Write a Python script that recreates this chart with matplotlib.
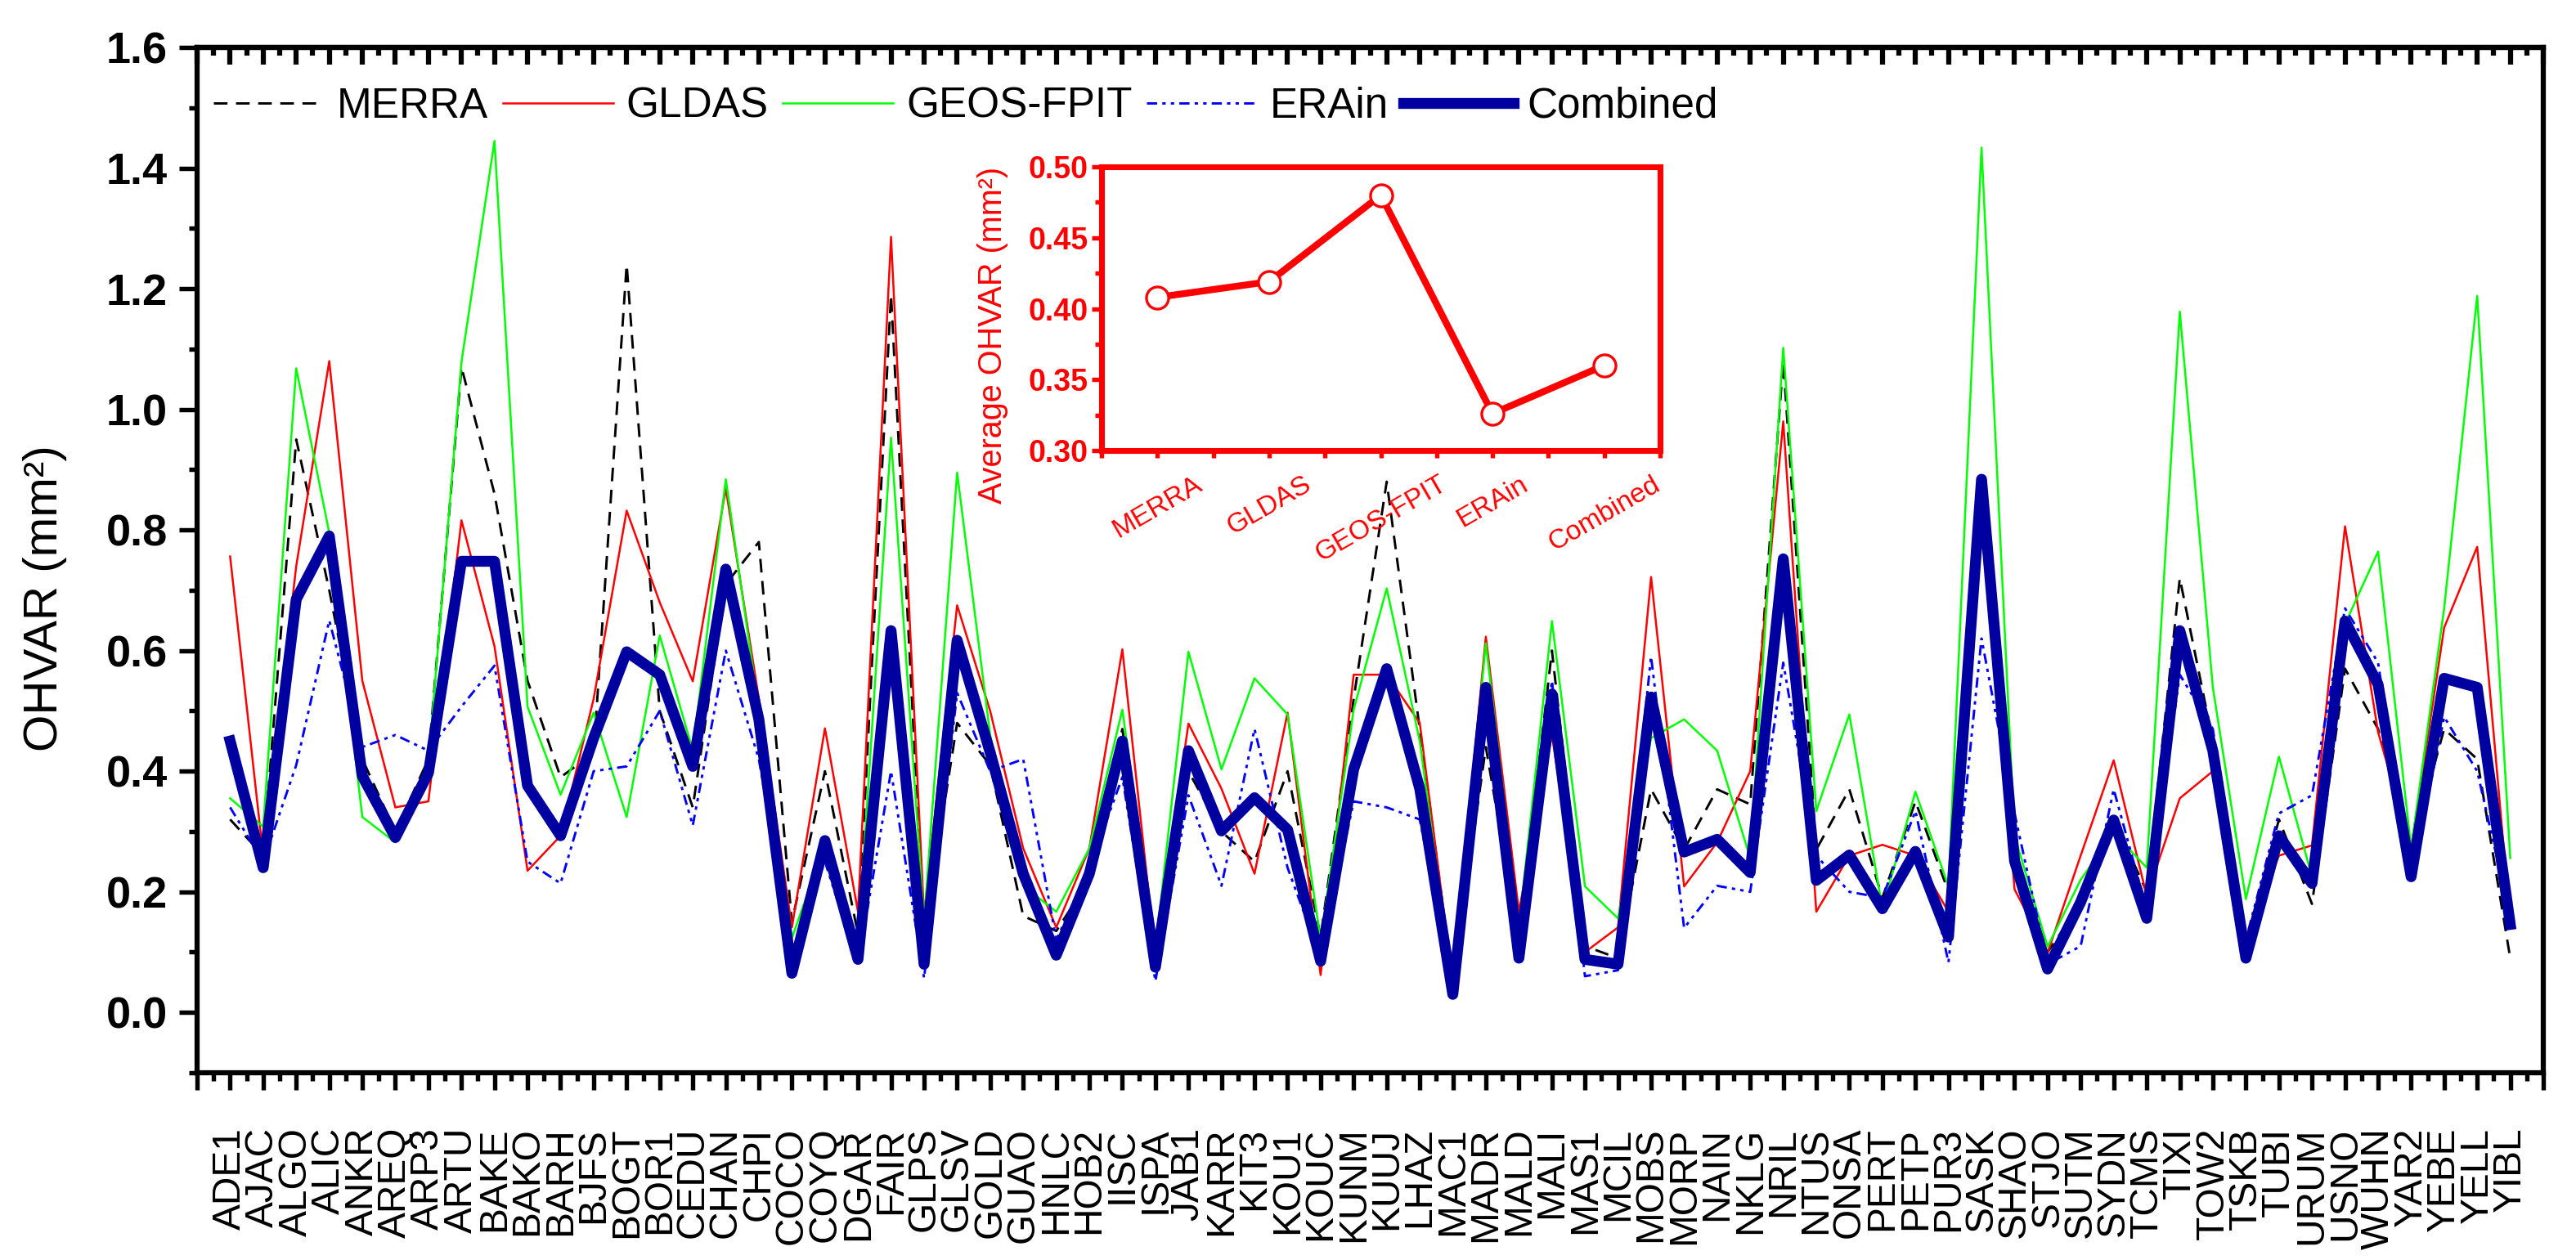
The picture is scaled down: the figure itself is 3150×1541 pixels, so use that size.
import numpy as np
import matplotlib
matplotlib.use("Agg")
import matplotlib.pyplot as plt
from matplotlib.ticker import MultipleLocator, FormatStrFormatter

plt.rcParams['font.family'] = ['Liberation Sans', 'DejaVu Sans']
plt.rcParams['lines.scale_dashes'] = False

# ---- data ----
stations = ["ADE1", "AJAC", "ALGO", "ALIC", "ANKR", "AREQ", "ARP3", "ARTU", "BAKE", "BAKO",
            "BARH", "BJFS", "BOGT", "BOR1", "CEDU", "CHAN", "CHPI", "COCO", "COYQ", "DGAR",
            "FAIR", "GLPS", "GLSV", "GOLD", "GUAO", "HNLC", "HOB2", "IISC", "ISPA", "JAB1",
            "KARR", "KIT3", "KOU1", "KOUC", "KUNM", "KUUJ", "LHAZ", "MAC1", "MADR", "MALD",
            "MALI", "MAS1", "MCIL", "MOBS", "MORP", "NAIN", "NKLG", "NRIL", "NTUS", "ONSA",
            "PERT", "PETP", "PUR3", "SASK", "SHAO", "STJO", "SUTM", "SYDN", "TCMS", "TIXI",
            "TOW2", "TSKB", "TUBI", "URUM", "USNO", "WUHN", "YAR2", "YEBE", "YELL", "YIBL"]

merra = [0.32, 0.26, 0.95, 0.70, 0.42, 0.30, 0.42, 1.07, 0.86, 0.55, 0.39, 0.43,
         1.24, 0.50, 0.34, 0.71, 0.78, 0.15, 0.40, 0.13, 1.19, 0.13, 0.48,
         0.41, 0.16, 0.135, 0.22, 0.47, 0.10, 0.40, 0.30, 0.25, 0.40, 0.125, 0.52,
         0.88, 0.47, 0.05, 0.44, 0.12, 0.60, 0.11, 0.09, 0.37, 0.27, 0.37, 0.345,
         1.08, 0.27, 0.37, 0.19, 0.35, 0.20, 0.86, 0.26, 0.10, 0.18, 0.32, 0.20,
         0.72, 0.45, 0.11, 0.32, 0.18, 0.57, 0.47, 0.27, 0.47, 0.42, 0.09]

gldas = [0.756, 0.26, 0.74, 1.08, 0.55, 0.34, 0.35, 0.816, 0.607, 0.235, 0.293, 0.52,
         0.832, 0.68, 0.549, 0.869, 0.52, 0.141, 0.471, 0.167, 1.286, 0.16, 0.675,
         0.50, 0.272, 0.141, 0.272, 0.602, 0.094, 0.479, 0.371, 0.23, 0.497, 0.062, 0.56,
         0.56, 0.48, 0.05, 0.623, 0.167, 0.46, 0.10, 0.141, 0.722, 0.209, 0.282, 0.40,
         0.98, 0.167, 0.26, 0.278, 0.26, 0.167, 0.86, 0.204, 0.099, 0.26, 0.418, 0.193,
         0.355, 0.40, 0.125, 0.26, 0.277, 0.806, 0.465, 0.272, 0.638, 0.772, 0.15]

geos = [0.355, 0.308, 1.068, 0.795, 0.324, 0.282, 0.413, 1.078, 1.445, 0.507, 0.361, 0.497,
        0.324, 0.625, 0.434, 0.884, 0.50, 0.123, 0.28, 0.114, 0.953, 0.151, 0.895,
        0.46, 0.21, 0.167, 0.272, 0.502, 0.104, 0.598, 0.403, 0.554, 0.494, 0.12, 0.502,
        0.703, 0.45, 0.04, 0.612, 0.141, 0.649, 0.209, 0.156, 0.455, 0.486, 0.434, 0.256,
        1.102, 0.334, 0.494, 0.172, 0.366, 0.209, 1.434, 0.293, 0.109, 0.22, 0.298, 0.24,
        1.162, 0.539, 0.188, 0.424, 0.225, 0.644, 0.764, 0.272, 0.67, 1.188, 0.256]

erain = [0.34, 0.25, 0.41, 0.65, 0.44, 0.46, 0.434, 0.507, 0.575, 0.25, 0.214, 0.40,
         0.408, 0.50, 0.31, 0.60, 0.42, 0.10, 0.25, 0.08, 0.40, 0.057, 0.53,
         0.40, 0.42, 0.12, 0.24, 0.39, 0.052, 0.36, 0.21, 0.47, 0.24, 0.09, 0.35,
         0.34, 0.32, 0.05, 0.55, 0.09, 0.55, 0.06, 0.07, 0.59, 0.14, 0.21, 0.20,
         0.58, 0.26, 0.20, 0.19, 0.334, 0.083, 0.62, 0.33, 0.08, 0.11, 0.37, 0.17,
         0.56, 0.47, 0.12, 0.33, 0.36, 0.67, 0.58, 0.22, 0.49, 0.40, 0.16]

combined = [0.450, 0.240, 0.685, 0.790, 0.392, 0.290, 0.397, 0.748, 0.748, 0.376, 0.293, 0.455,
            0.598, 0.560, 0.408, 0.735, 0.486, 0.065, 0.285, 0.088, 0.633, 0.080, 0.617,
            0.431, 0.230, 0.095, 0.230, 0.450, 0.075, 0.434, 0.301, 0.356, 0.303, 0.085, 0.403,
            0.570, 0.371, 0.030, 0.539, 0.090, 0.528, 0.088, 0.080, 0.523, 0.266, 0.287, 0.232,
            0.752, 0.219, 0.261, 0.172, 0.267, 0.125, 0.884, 0.251, 0.072, 0.183, 0.319, 0.156,
            0.633, 0.434, 0.090, 0.293, 0.214, 0.649, 0.544, 0.225, 0.554, 0.539, 0.146]

products = ["MERRA", "GLDAS", "GEOS-FPIT", "ERAin", "Combined"]
avg_ohvar = [0.408, 0.419, 0.480, 0.326, 0.360]

W, H = 3150, 1541
fig = plt.figure(figsize=(W / 300, H / 300), dpi=300)

# ---- main axes ----
ax = fig.add_axes([241 / W, 1 - 1312 / H, (3110 - 241) / W, (1312 - 58) / H])
x = np.arange(1, len(stations) + 1)

ax.plot(x, merra, color='black', lw=0.7, dashes=(4, 2.5), label='MERRA')
ax.plot(x, gldas, color='#FF0000', lw=0.6, label='GLDAS')
ax.plot(x, geos, color='#00FF00', lw=0.6, label='GEOS-FPIT')
ax.plot(x, erain, color='#0000FF', lw=0.7, dashes=(3, 1.5, 1, 1.5, 1, 1.5), label='ERAin')
ax.plot(x, combined, color='#0000A0', lw=3.2, label='Combined', zorder=5)

ax.set_xlim(0, 71)
ax.set_ylim(-0.1, 1.6)

ax.set_xticks(np.arange(0, 72))
ax.set_xticklabels([''] + stations + [''], rotation=90, fontsize=11.5)
ax.xaxis.set_minor_locator(MultipleLocator(0.5))
ax.tick_params(axis='x', which='major', direction='out', length=5, width=1.3, pad=11)
ax.tick_params(axis='x', which='minor', direction='out', length=2.5, width=1.3)

ax.set_yticks(np.arange(0, 1.61, 0.2))
ax.yaxis.set_major_formatter(FormatStrFormatter('%.1f'))
ax.yaxis.set_minor_locator(MultipleLocator(0.1))
ax.tick_params(axis='y', which='major', direction='out', length=5.2, width=1.3, pad=3.5)
ax.tick_params(axis='y', which='minor', direction='out', length=2.5, width=1.3)
for t in ax.get_yticklabels():
    t.set_fontweight('bold')
    t.set_fontsize(13)

for s in ax.spines.values():
    s.set_linewidth(1.5)

# inward ticks along the top edge
top = ax.secondary_xaxis('top')
top.set_xticks(np.arange(0, 72))
top.xaxis.set_minor_locator(MultipleLocator(0.5))
top.tick_params(axis='x', which='major', direction='in', length=5, width=1.5, labeltop=False)
top.tick_params(axis='x', which='minor', direction='in', length=2.5, width=1.5)
top.spines['top'].set_linewidth(1.5)

fig.text(55 / W, 1 - 732 / H, 'OHVAR (mm²)', rotation=90, ha='center', va='center', fontsize=14)

ax.legend(ncol=5, loc='upper left', bbox_to_anchor=(261 / W, 1 - 106 / H),
          bbox_transform=fig.transFigure, frameon=False, fontsize=12.3,
          handlelength=2.63, handletextpad=0.31, columnspacing=0.35,
          borderpad=0, borderaxespad=0)

# ---- inset: average OHVAR per product ----
red = '#FF0000'
ax2 = fig.add_axes([1347 / W, 1 - 551 / H, 683 / W, 347 / H])
ax2.patch.set_alpha(0)
xi = np.arange(1, len(products) + 1)
ax2.plot(xi, avg_ohvar, color=red, lw=2.0, marker='o', ms=6.5,
         mfc='white', mec=red, mew=0.8)
ax2.set_xlim(0.5, 5.5)
ax2.set_ylim(0.30, 0.50)
ax2.set_xticks(xi)
ax2.set_xticklabels(products, rotation=30, fontsize=8, color=red)
ax2.xaxis.set_minor_locator(MultipleLocator(0.5))
ax2.set_yticks(np.arange(0.30, 0.501, 0.05))
ax2.yaxis.set_major_formatter(FormatStrFormatter('%.2f'))
ax2.yaxis.set_minor_locator(MultipleLocator(0.025))
ax2.tick_params(which='both', colors=red, width=1.3)
ax2.tick_params(axis='y', which='major', length=3, pad=1)
ax2.tick_params(axis='y', which='minor', length=2)
ax2.tick_params(axis='x', which='major', length=2.2, pad=4)
ax2.tick_params(axis='x', which='minor', length=2.2)
for t in ax2.get_yticklabels():
    t.set_fontweight('bold')
    t.set_fontsize(9)
    t.set_color(red)
for s in ax2.spines.values():
    s.set_color(red)
    s.set_linewidth(1.7)

fig.text(1214 / W, 1 - 410 / H, 'Average OHVAR (mm²)', rotation=90,
         ha='center', va='center', fontsize=9.5, color=red)

fig.savefig('out.png', dpi=300)
